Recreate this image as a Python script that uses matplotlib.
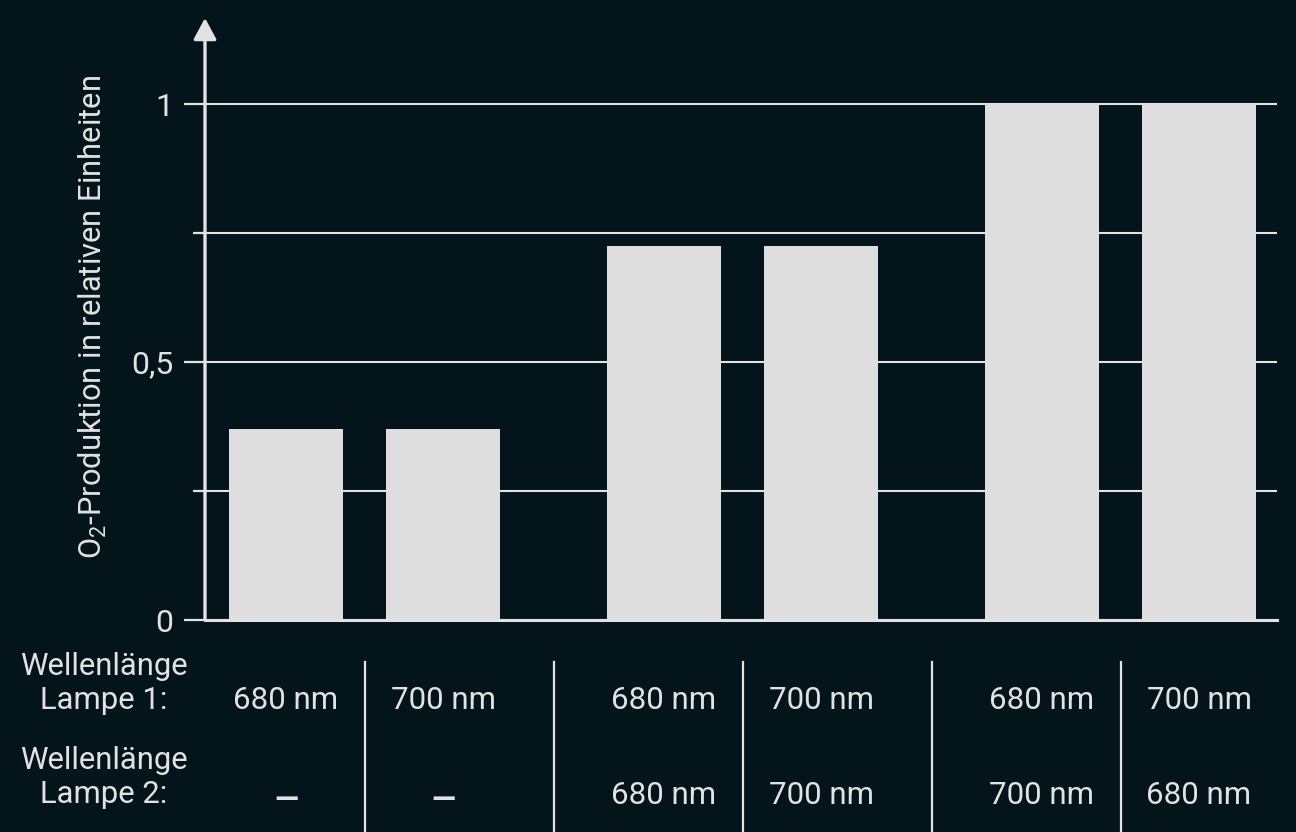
import matplotlib.pyplot as plt
from matplotlib import transforms

plt.rcParams["font.family"] = ["Roboto", "DejaVu Sans"]
plt.rcParams["mathtext.fontset"] = "custom"
plt.rcParams["mathtext.rm"] = "Roboto"

# Daten
groups = [0, 1, 2]
lamp1 = ["680 nm", "700 nm", "680 nm", "700 nm", "680 nm", "700 nm"]
lamp2 = ["—", "—", "680 nm", "700 nm", "700 nm", "680 nm"]
o2_production = [0.37, 0.37, 0.725, 0.725, 1.0, 1.0]
ytick_values = [0, 0.5, 1]
ytick_labels = ["0", "0,5", "1"]

bg = "#03151a"
fg = "#e2e2e2"
bar_color = "#dedede"

W, H = 1296, 832
fig = plt.figure(figsize=(W / 100, H / 100), dpi=100, facecolor=bg)
ax = fig.add_axes([205 / W, (H - 620) / H, (1277 - 205) / W, (620 - 36) / H])
ax.set_facecolor(bg)

# Balken: je zwei pro Gruppe
offset = 0.2077
width = 0.3016
xs = []
for g in groups:
    xs += [g - offset, g + offset]
ax.bar(xs, o2_production, width=width, color=bar_color, zorder=3)

ax.set_xlim(-0.422, 2.414)
ax.set_ylim(0, (620 - 36) / 516)

for s in ["top", "right", "left"]:
    ax.spines[s].set_visible(False)
ax.spines["bottom"].set_color(fg)
ax.spines["bottom"].set_linewidth(2.2)
ax.spines["bottom"].set_zorder(4)

ax.set_xticks([])
ax.set_yticks(ytick_values)
ax.set_yticklabels(ytick_labels)
ax.set_yticks([0.25, 0.75], minor=True)
ax.tick_params(axis="y", which="major", length=15, width=1.6, color=fg,
               pad=8, labelsize=23, labelcolor=fg)
ax.tick_params(axis="y", which="minor", length=8.5, width=1.6, color=fg)
ax.grid(axis="y", which="both", color=fg, linewidth=1.5, zorder=1)
ax.set_axisbelow(True)

# y-Achse mit Pfeil
ax.annotate("", xy=(0, (620 - 18) / (620 - 36)), xytext=(0, 0),
            xycoords="axes fraction", textcoords="axes fraction",
            arrowprops=dict(arrowstyle="-|>,head_length=0.65,head_width=0.35",
                            color=fg, lw=2.4, mutation_scale=20,
                            shrinkA=0, shrinkB=0),
            annotation_clip=False, zorder=5)

fig.text(102 / W, (H - 317) / H,
         r"O$_\mathregular{2}$-Produktion in relativen Einheiten",
         rotation=90, rotation_mode="anchor", ha="center", va="baseline",
         fontsize=22.2, color=fg)

# Tabelle unter dem Diagramm
trans = transforms.blended_transform_factory(ax.transData, fig.transFigure)
for sx in [0, 0.5, 1, 1.5, 2]:
    ax.plot([sx, sx], [(H - 662) / H, 0], transform=trans, color=fg,
            lw=1.6, clip_on=False)

for x, t1, t2 in zip(xs, lamp1, lamp2):
    ax.text(x, (H - 709) / H, t1, transform=trans, ha="center", va="baseline",
            fontsize=22.5, color=fg)
    if t2 == "—":
        # Strich etwas kräftiger und tiefer
        ax.text(x, (H - 809) / H, t2, transform=trans, ha="center",
                va="baseline", fontsize=22.5, color=fg, fontweight="bold")
    else:
        ax.text(x, (H - 804) / H, t2, transform=trans, ha="center",
                va="baseline", fontsize=22.5, color=fg)

label_lines = [("Wellenlänge", 675), ("Lampe 1:", 709),
               ("Wellenlänge", 769), ("Lampe 2:", 803)]
for txt, y in label_lines:
    fig.text(104 / W, (H - y) / H, txt, ha="center", va="baseline",
             fontsize=22.3, color=fg)

fig.savefig("out.png", dpi=100, facecolor=bg)
